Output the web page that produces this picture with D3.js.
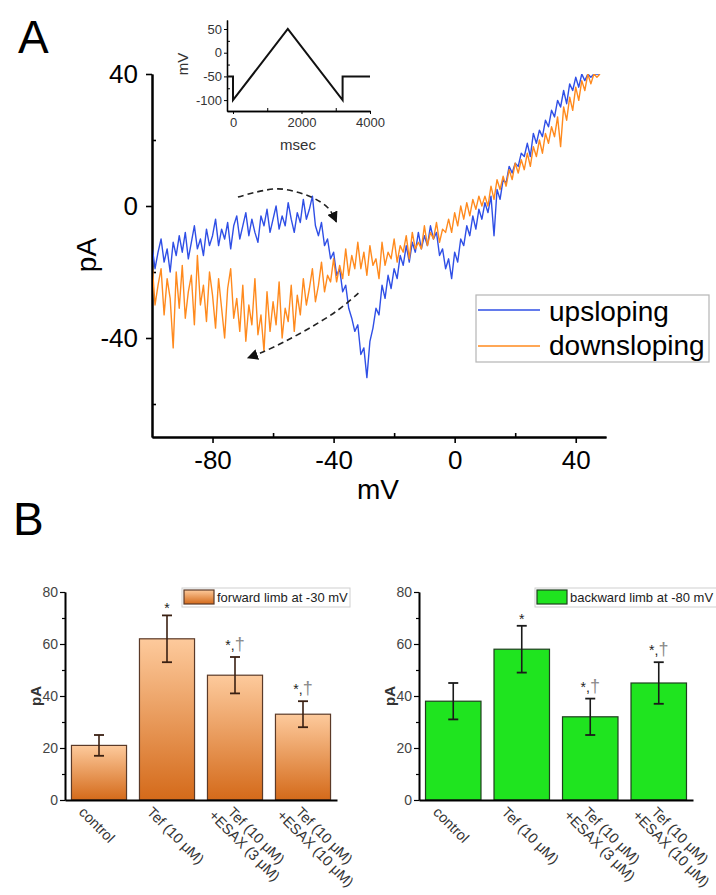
<!DOCTYPE html>
<html>
<head>
<meta charset="utf-8">
<script src="https://d3js.org/d3.v7.min.js"></script>
<style>
  body { margin: 0; background: #fff; }
  svg text { font-family: "Liberation Sans", Arial, sans-serif; }
</style>
</head>
<body>
<div id="chart"></div>
<script>

// DATA

// ramp current traces, one value per mV from -100 to +48
const mV = d3.range(-100, 49);
const upsloping = [
  -12, -19, -14, -10, -17, -13, -20, -11, -15, -9,
  -14, -8, -16, -11, -6, -13, -10, -15, -7, -12,
  -9, -4, -12, -7, -10, -5, -13, -6, -3, -10,
  -6, -2, -9, -4, -8, -11, -3, -6, -1, -8,
  -4, 0, -7, -3, -6, 1, -4, -8, -2, -5,
  2, -4, -1, 3, -6, -9, -5, -12, -10, -16,
  -14, -21, -19, -26, -24, -31, -34, -38, -36, -45,
  -43, -52, -41, -37, -31, -33, -24, -28, -21, -25,
  -19, -22, -15, -18, -12, -17, -11, -14, -8, -13,
  -9, -12, -6, -10, -8, -15, -13, -19, -16, -22,
  -14, -17, -10, -12, -6, -9, -3, -7, -1, -4,
  1, -2, 3, -9, 5, 2, 8, 7, 12, 10,
  13, 12, 16, 15, 19, 15, 22, 19, 23, 21,
  26, 24, 29, 27, 32, 30, 35, 31, 37, 35,
  39, 36, 40, 38, 40, 39, 40, 40, 40
];
const downsloping = [
  -17, -30, -24, -19, -33, -22, -28, -43, -20, -31,
  -18, -34, -26, -21, -36, -15, -30, -24, -35, -20,
  -27, -37, -22, -31, -40, -25, -19, -34, -28, -38,
  -24, -41, -30, -36, -22, -39, -33, -44, -26, -38,
  -29, -36, -23, -40, -31, -35, -24, -38, -27, -33,
  -22, -30, -25, -19, -29, -24, -17, -26, -21, -23,
  -16, -23, -18, -22, -13, -21, -15, -19, -11, -19,
  -14, -21, -12, -18, -16, -22, -11, -18, -14, -16,
  -10, -17, -12, -14, -9, -16, -8, -13, -11, -13,
  -6, -12, -8, -10, -5, -11, -7, -8, -4, -8,
  -2, -6, 0, -4, 1, -3, 2, -1, 3, 0,
  3, 0, 6, 2, 8, 5, 9, 6, 11, 8,
  13, 10, 14, 11, 16, 12, 18, 15, 20, 16,
  22, 19, 24, 21, 27, 18, 30, 26, 33, 29,
  36, 32, 38, 35, 40, 37, 40, 39, 40
];

// voltage protocol (inset)
const rampTime = [-175, 0, 0, 1600, 3200, 3200, 4000];
const rampVolt = [-50, -50, -100, 50, -100, -50, -50];

// dashed arrows, in mV / pA
const fwdArrowMV = [-71.6, -58.4, -47.4, -41.8, -39.1];
const fwdArrowPA = [2.7, 5.2, 2.7, -0.6, -4.8];
const backArrowMV = [-31.8, -38.5, -47.4, -56.4, -64, -68.3];
const backArrowPA = [-26.4, -31.5, -36.7, -41.2, -44.5, -46];

// panel B
const groups = [
  ["control"],
  ["Tef (10 μM)"],
  ["Tef (10 μM)", "+ESAX (3 μM)"],
  ["Tef (10 μM)", "+ESAX (10 μM)"]
];
const forwardMean = [21, 62, 48, 33];
const forwardErr = [4, 9, 7, 5];
const backwardMean = [38, 58, 32, 45];
const backwardErr = [7, 9, 7, 8];
const signif = ["", "*", "*,", "*,"];
const dagger = [false, false, true, true];

// CHART

const blue = "#2f4fe6";
const orange = "#ff8a1e";
const fmt = d => String(d);

const svg = d3.select("#chart").append("svg")
  .attr("width", 716)
  .attr("height", 895);

const defs = svg.append("defs");
defs.append("marker")
  .attr("id", "head")
  .attr("viewBox", "0 0 10 10")
  .attr("refX", 9).attr("refY", 5)
  .attr("markerUnits", "userSpaceOnUse")
  .attr("markerWidth", 11).attr("markerHeight", 11)
  .attr("orient", "auto")
  .append("path").attr("d", "M0,0 L10,5 L0,10 z").attr("fill", "#111");

const grad = defs.append("linearGradient")
  .attr("id", "orangeGrad")
  .attr("x1", 0).attr("y1", 0).attr("x2", 0).attr("y2", 1);
grad.append("stop").attr("offset", "0%").attr("stop-color", "#fdca9c");
grad.append("stop").attr("offset", "100%").attr("stop-color", "#d46a1a");

function styleAxis(g, size, color) {
  g.select(".domain").attr("stroke", "#000").attr("stroke-width", 2);
  g.selectAll(".tick line").attr("stroke", "#000").attr("stroke-width", 1.6);
  g.selectAll(".tick text").attr("font-size", size).attr("fill", color)
    .attr("font-family", '"Liberation Sans", Arial, sans-serif');
}

// ---------- panel A ----------
svg.append("text").attr("x", 18).attr("y", 53)
  .attr("font-size", 46).text("A");

const xA = d3.scaleLinear().domain([-100, 50]).range([152, 606]);
const yA = d3.scaleLinear().domain([-70, 40]).range([437, 74]);

svg.append("g").attr("transform", "translate(0,437)")
  .call(d3.axisBottom(xA).tickValues([-60, -20, 20]).tickSize(-4).tickSizeOuter(0).tickFormat(""))
  .call(g => styleAxis(g, 26, "#000"));
svg.append("g").attr("transform", "translate(0,437)")
  .call(d3.axisBottom(xA).tickValues([-80, -40, 0, 40]).tickSize(6).tickSizeOuter(0)
    .tickPadding(8).tickFormat(fmt))
  .call(g => styleAxis(g, 26, "#000"));
svg.append("g").attr("transform", "translate(152,0)")
  .call(d3.axisLeft(yA).tickValues([-60, -20, 20]).tickSize(-4).tickSizeOuter(0).tickFormat(""))
  .call(g => styleAxis(g, 26, "#000"));
svg.append("g").attr("transform", "translate(152,0)")
  .call(d3.axisLeft(yA).tickValues([-40, 0, 40]).tickSize(6).tickSizeOuter(0)
    .tickPadding(8).tickFormat(fmt))
  .call(g => styleAxis(g, 26, "#000"));

svg.append("text").attr("x", 378).attr("y", 499)
  .attr("text-anchor", "middle").attr("font-size", 28).text("mV");
svg.append("text").attr("transform", "translate(96,255) rotate(-90)")
  .attr("text-anchor", "middle").attr("font-size", 28).text("pA");

defs.append("clipPath").attr("id", "clipA")
  .append("rect").attr("x", 153).attr("y", 74).attr("width", 460).attr("height", 362);

const traceLine = d3.line()
  .x((d, i) => xA(mV[i]))
  .y(d => yA(d));

const traces = svg.append("g").attr("clip-path", "url(#clipA)");
traces.append("path").datum(upsloping)
  .attr("d", traceLine).attr("fill", "none")
  .attr("stroke", blue).attr("stroke-width", 1.4).attr("stroke-linejoin", "round");
traces.append("path").datum(downsloping)
  .attr("d", traceLine).attr("fill", "none")
  .attr("stroke", orange).attr("stroke-width", 1.4).attr("stroke-linejoin", "round");

const arrowLine = d3.line().curve(d3.curveCatmullRom)
  .x(d => xA(d[0])).y(d => yA(d[1]));
[[fwdArrowMV, fwdArrowPA], [backArrowMV, backArrowPA]].forEach(function([xs, ys]) {
  svg.append("path")
    .datum(xs.map((v, i) => [v, ys[i]]))
    .attr("d", arrowLine)
    .attr("fill", "none").attr("stroke", "#222").attr("stroke-width", 1.6)
    .attr("stroke-dasharray", "6,4")
    .attr("marker-end", "url(#head)");
});

// legend A
const legA = svg.append("g");
legA.append("rect").attr("x", 476).attr("y", 295).attr("width", 233).attr("height", 67)
  .attr("fill", "#fff").attr("stroke", "#b5b5b5").attr("stroke-width", 1.2);
[["upsloping", blue, 310, 321], ["downsloping", orange, 346, 355]].forEach(function(r) {
  legA.append("line").attr("x1", 478).attr("x2", 540).attr("y1", r[2]).attr("y2", r[2])
    .attr("stroke", r[1]).attr("stroke-width", 1.6);
  legA.append("text").attr("x", 549).attr("y", r[3]).attr("font-size", 28).text(r[0]);
});

// inset
const xI = d3.scaleLinear().domain([-175, 4000]).range([227, 370]);
const yI = d3.scaleLinear().domain([-123, 69]).range([111, 20]);
const inset = svg.append("g");
inset.append("g").attr("transform", "translate(0,111)")
  .call(d3.axisBottom(xI).tickValues([1000, 3000]).tickSize(-3).tickSizeOuter(0).tickFormat(""))
  .call(g => styleAxis(g, 13, "#333"));
inset.append("g").attr("transform", "translate(0,111)")
  .call(d3.axisBottom(xI).tickValues([0, 2000, 4000]).tickSize(3).tickSizeOuter(0)
    .tickPadding(4).tickFormat(fmt))
  .call(g => styleAxis(g, 13, "#333"));
inset.append("g").attr("transform", "translate(227,0)")
  .call(d3.axisLeft(yI).tickValues([-75, -25, 25]).tickSize(-3).tickSizeOuter(0).tickFormat(""))
  .call(g => styleAxis(g, 13, "#333"));
inset.append("g").attr("transform", "translate(227,0)")
  .call(d3.axisLeft(yI).tickValues([-100, -50, 0, 50]).tickSize(3).tickSizeOuter(0)
    .tickPadding(2).tickFormat(fmt))
  .call(g => styleAxis(g, 13, "#333"));
inset.selectAll(".domain").attr("stroke-width", 1.3);
inset.selectAll(".tick line").attr("stroke-width", 1);
inset.append("path")
  .datum(rampTime.map((t, i) => [t, rampVolt[i]]))
  .attr("d", d3.line().x(d => xI(d[0])).y(d => yI(d[1])))
  .attr("fill", "none").attr("stroke", "#111").attr("stroke-width", 2);
inset.append("text").attr("x", 298).attr("y", 150)
  .attr("text-anchor", "middle").attr("font-size", 15).attr("fill", "#333").text("msec");
inset.append("text").attr("transform", "translate(188,64) rotate(-90)")
  .attr("text-anchor", "middle").attr("font-size", 15).attr("fill", "#333").text("mV");

// ---------- panel B ----------
svg.append("text").attr("x", 13).attr("y", 535)
  .attr("font-size", 46).text("B");

function barPanel(x0, x1, means, errs, fill, stroke, errColor, legendText, leg) {
  const x = d3.scaleBand().domain(d3.range(groups.length)).range([x0, x1])
    .paddingInner(0.19).paddingOuter(0.095);
  const y = d3.scaleLinear().domain([0, 80]).range([800, 592]);
  const g = svg.append("g");

  g.append("g").attr("transform", `translate(${x0},0)`)
    .call(d3.axisLeft(y).tickValues([10, 30, 50, 70]).tickSize(3).tickSizeOuter(0).tickFormat(""))
    .call(a => styleAxis(a, 14, "#444"));
  g.append("g").attr("transform", `translate(${x0},0)`)
    .call(d3.axisLeft(y).tickValues([0, 20, 40, 60, 80]).tickSize(5).tickSizeOuter(0)
      .tickPadding(2).tickFormat(fmt))
    .call(a => styleAxis(a, 14, "#444"));
  g.selectAll(".domain").attr("stroke-width", 1.6);
  g.selectAll(".tick line").attr("stroke-width", 1.2);

  g.selectAll("rect.bar").data(means).enter().append("rect")
    .attr("class", "bar")
    .attr("x", (d, i) => x(i))
    .attr("y", d => y(d))
    .attr("width", x.bandwidth())
    .attr("height", d => y(0) - y(d))
    .attr("fill", fill).attr("stroke", stroke).attr("stroke-width", 1.2);

  // x axis line drawn over the bars
  g.append("g").attr("transform", "translate(0,800)")
    .call(d3.axisBottom(x).tickValues([]).tickSizeOuter(0))
    .call(a => a.select(".domain").attr("stroke", "#000").attr("stroke-width", 1.8));

  const cx = i => x(i) + x.bandwidth() / 2;
  means.forEach(function(m, i) {
    const top = y(m + errs[i]), bot = y(m - errs[i]);
    g.append("line").attr("x1", cx(i)).attr("x2", cx(i)).attr("y1", top).attr("y2", bot)
      .attr("stroke", errColor).attr("stroke-width", 1.6);
    [top, bot].forEach(v => g.append("line")
      .attr("x1", cx(i) - 5).attr("x2", cx(i) + 5).attr("y1", v).attr("y2", v)
      .attr("stroke", errColor).attr("stroke-width", 1.8));
    if (signif[i]) {
      const t = g.append("text").attr("x", cx(i)).attr("y", dagger[i] ? top - 7 : top - 2)
        .attr("text-anchor", "middle").attr("font-size", 14);
      t.append("tspan").attr("fill", "#222").text(signif[i]);
      if (dagger[i]) t.append("tspan").attr("fill", "#8a8a8a").attr("font-size", 18).text("†");
    }
  });

  // rotated category labels
  groups.forEach(function(lines, i) {
    const lab = g.append("g")
      .attr("transform", `translate(${cx(i) - 21},813) rotate(45)`);
    if (lines.length === 1) {
      lab.append("text").attr("font-size", 14.5).attr("fill", "#333").text(lines[0]);
    } else {
      lab.append("text").attr("x", 9).attr("y", -9)
        .attr("font-size", 14.5).attr("fill", "#333").text(lines[0]);
      lab.append("text").attr("x", -2).attr("y", 6.5)
        .attr("font-size", 14.5).attr("fill", "#333").text(lines[1]);
    }
  });

  g.append("text").attr("transform", `translate(${x0 - 24},696) rotate(-90)`)
    .attr("text-anchor", "middle").attr("font-size", 15).attr("font-weight", "bold")
    .attr("fill", "#333").text("pA");

  // legend
  g.append("rect").attr("x", leg.x).attr("y", 588).attr("width", leg.w).attr("height", 19)
    .attr("fill", "#fff").attr("stroke", "#cfcfcf");
  g.append("rect").attr("x", leg.x + 2).attr("y", 590).attr("width", 30).attr("height", 14)
    .attr("fill", fill).attr("stroke", stroke).attr("stroke-width", 1.2);
  g.append("text").attr("x", leg.x + 35).attr("y", 601.5)
    .attr("font-size", 13).attr("fill", "#222").text(legendText);
}

barPanel(65, 337, forwardMean, forwardErr, "url(#orangeGrad)", "#5b3a28", "#3a2012",
  "forward limb at -30 mV", {x: 182, w: 168});
barPanel(419, 693, backwardMean, backwardErr, "#1fe41f", "#1f3f1f", "#1a1a1a",
  "backward limb at -80 mV", {x: 535, w: 185});

</script>
</body>
</html>
